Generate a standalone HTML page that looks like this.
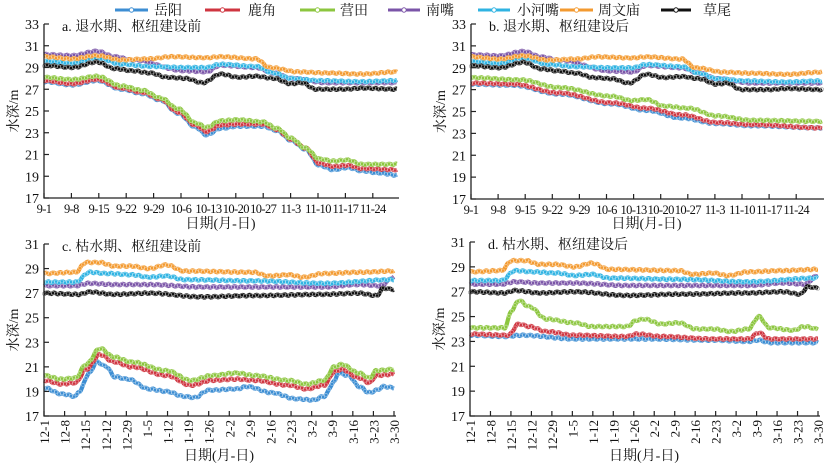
<!DOCTYPE html>
<html><head><meta charset="utf-8">
<style>
body{margin:0;background:#fff}
svg{display:block}
text{font-family:"Liberation Serif","Noto Serif CJK SC","Noto Sans CJK SC",serif;fill:#111}
</style></head>
<body>
<svg id="s" width="833" height="467" xmlns="http://www.w3.org/2000/svg"></svg>
<script>
const S=document.getElementById('s');
let out='';
const C={blue:'#3d8ed3',red:'#cf3540',green:'#8cc63f',purple:'#7b55a8',cyan:'#2fb3e2',orange:'#f39a30',black:'#111'};
const leg=[['blue','岳阳',115,148,154],['red','鹿角',205,240,248],['green','营田',300,335,340],['purple','南嘴',388,420,426],['cyan','小河嘴',478,510,517],['orange','周文庙',560,593,598],['black','草尾',661,691,703]];
leg.forEach(l=>{out+=`<line x1="${l[2]}" y1="10" x2="${l[3]}" y2="10" stroke="${C[l[0]]}" stroke-width="3"/><circle cx="${(l[2]+l[3])/2}" cy="10" r="2.2" fill="#fff" stroke="${C[l[0]]}" stroke-width="1"/><text x="${l[4]}" y="15" font-size="14">${l[1]}</text>`;});
function interp(k,t){for(let i=0;i<k.length-1;i++){if(t>=k[i][0]&&t<=k[i+1][0]){const f=(t-k[i][0])/(k[i+1][0]-k[i][0]);const s=(1-Math.cos(f*Math.PI))/2;return k[i][1]+(k[i+1][1]-k[i][1])*s;}}return k[k.length-1][1];}
const A={
purple:[[0,30.2],[.08,30.1],[.15,30.5],[.2,30],[.25,29.7],[.4,28.7],[.46,28.6],[.5,29.2],[.6,29.0],[.65,28.5],[.7,28],[.8,27.6],[1,27.6]],
cyan:[[0,29.6],[.08,29.4],[.15,29.9],[.22,29.3],[.3,29.1],[.4,29],[.46,29],[.5,29.3],[.6,29.1],[.65,28.5],[.7,28],[.78,27.8],[.9,27.7],[1,27.8]],
orange:[[0,30],[.08,29.8],[.15,30.1],[.22,29.7],[.3,29.8],[.36,30],[.46,29.9],[.5,30],[.6,29.8],[.64,29],[.72,28.6],[.8,28.5],[.9,28.4],[1,28.6]],
black:[[0,29.2],[.08,29],[.15,29.5],[.2,28.9],[.25,28.7],[.3,28.5],[.35,28.1],[.4,28],[.45,27.6],[.5,28.4],[.55,28.1],[.6,28.2],[.65,28],[.7,27.5],[.73,27.6],[.77,27],[.85,27],[.9,27.1],[1,27]]};
const Cc={
purple:[[0,27.6],[.09,27.6],[.13,27.8],[.2,27.7],[.3,27.7],[.45,27.5],[.8,27.5],[.9,27.7],[.96,27.6],[1,28.3]],
cyan:[[0,27.9],[.09,27.9],[.13,28.7],[.18,28.6],[.25,28.5],[.3,28.3],[.35,28.4],[.4,28.1],[.6,28],[.8,27.8],[1,28.1]],
orange:[[0,28.6],[.09,28.7],[.12,29.5],[.16,29.5],[.2,29.2],[.25,29.2],[.3,29],[.35,29.3],[.4,28.8],[.6,28.7],[.64,28.4],[.7,28.5],[.74,28.3],[.8,28.6],[.9,28.7],[1,28.8]],
black:[[0,27],[.1,26.9],[.13,27.1],[.2,26.9],[.3,27],[.45,26.7],[.6,26.8],[.8,26.9],[.9,27],[.95,26.8],[.97,27.4],[1,27.3]]};
const panels=[
{x0:44,x1:397,y0:24,y1:198,ymin:17,ymax:33,lab:'a. 退水期、枢纽建设前',ticks:['9-1','9-8','9-15','9-22','9-29','10-6','10-13','10-20','10-27','11-3','11-10','11-17','11-24'],tstep:27.4,rot:false,xt:228,
 s:Object.assign({},A,{
 blue:[[0,27.7],[.08,27.4],[.15,27.8],[.22,27],[.28,26.6],[.33,26],[.38,24.8],[.43,23.5],[.46,22.8],[.5,23.4],[.55,23.6],[.62,23.6],[.66,23.2],[.7,22.3],[.74,21.5],[.78,20],[.82,19.6],[.86,19.8],[.9,19.5],[.95,19.3],[1,19.1]],
 red:[[0,27.8],[.08,27.5],[.15,27.9],[.22,27.1],[.28,26.7],[.33,26.1],[.38,24.9],[.43,23.7],[.46,23.1],[.5,23.7],[.55,23.8],[.62,23.8],[.66,23.3],[.7,22.4],[.74,21.6],[.78,20.2],[.82,19.9],[.86,20],[.9,19.7],[1,19.6]],
 green:[[0,28.1],[.08,27.9],[.15,28.2],[.22,27.3],[.28,26.9],[.33,26.2],[.38,25.2],[.43,23.9],[.46,23.5],[.5,24.1],[.55,24.2],[.62,24],[.66,23.4],[.7,22.5],[.74,21.6],[.78,20.6],[.82,20.4],[.86,20.5],[.9,20.1],[1,20.1]]})},
{x0:471,x1:822,y0:24,y1:199,ymin:17,ymax:33,lab:'b. 退水期、枢纽建设后',ticks:['9-1','9-8','9-15','9-22','9-29','10-6','10-13','10-20','10-27','11-3','11-10','11-17','11-24'],tstep:27.1,rot:false,xt:228,
 s:Object.assign({},A,{
 blue:[[0,27.5],[.12,27.4],[.25,26.6],[.4,25.7],[.5,25.1],[.6,24.4],[.7,23.9],[.8,23.7],[1,23.5]],
 red:[[0,27.6],[.12,27.5],[.25,26.7],[.4,25.8],[.5,25.3],[.6,24.7],[.7,24],[.8,23.8],[1,23.5]],
 green:[[0,28.1],[.14,27.9],[.25,27.2],[.4,26.4],[.46,26],[.5,26.1],[.55,25.5],[.62,25.3],[.7,24.6],[.8,24.2],[1,24.1]]})},
{x0:44,x1:394,y0:244,y1:416,ymin:17,ymax:31,lab:'c. 枯水期、枢纽建设前',ticks:['12-1','12-8','12-15','12-12','12-29','1-5','1-12','1-19','1-26','2-2','2-9','2-16','2-23','3-2','3-9','3-16','3-23','3-30'],tstep:350/17,rot:true,xt:460,
 s:Object.assign({},Cc,{
 blue:[[0,19.3],[.05,18.8],[.09,18.6],[.1,19],[.13,20.5],[.15,21.4],[.18,21],[.2,20.2],[.24,20],[.3,19.2],[.35,19],[.4,18.6],[.43,18.5],[.47,19.1],[.55,19.2],[.58,19.4],[.65,18.9],[.72,18.4],[.77,18.3],[.8,18.6],[.83,19.8],[.84,20.5],[.87,20.3],[.9,19.4],[.93,18.9],[.95,19.1],[.97,19.4],[1,19.3]],
 red:[[0,19.9],[.05,19.6],[.09,19.7],[.12,20.8],[.16,22],[.2,21.4],[.25,21],[.35,20.3],[.42,19.5],[.48,19.9],[.55,20],[.6,19.9],[.7,19.5],[.75,19.2],[.8,19.5],[.83,20.6],[.85,20.8],[.9,20.1],[.93,19.7],[.95,20.3],[1,20.4]],
 green:[[0,20.3],[.05,20],[.09,20.1],[.12,21.2],[.16,22.5],[.2,21.8],[.25,21.4],[.35,20.7],[.42,19.9],[.48,20.3],[.55,20.5],[.6,20.3],[.7,19.9],[.75,19.6],[.8,19.9],[.83,21],[.85,21.2],[.9,20.5],[.93,20.1],[.95,20.7],[1,20.8]]})},
{x0:470,x1:818,y0:242,y1:416,ymin:17,ymax:31,lab:'d. 枯水期、枢纽建设后',ticks:['12-1','12-8','12-15','12-12','12-29','1-5','1-12','1-19','1-26','2-2','2-9','2-16','2-23','3-2','3-9','3-16','3-23','3-30'],tstep:348/17,rot:true,xt:460,
 s:Object.assign({},Cc,{
 blue:[[0,23.5],[.1,23.4],[.15,23.5],[.3,23.2],[.5,23.2],[.7,23.1],[.8,23.0],[.83,23.1],[.86,22.9],[1,22.9]],
 red:[[0,23.6],[.11,23.5],[.14,24.4],[.17,24.2],[.22,23.8],[.3,23.5],[.45,23.4],[.48,23.6],[.55,23.4],[.7,23.2],[.8,23.2],[.83,23.7],[.86,23.2],[1,23.2]],
 green:[[0,24.1],[.1,24.1],[.12,25.5],[.14,26.3],[.17,25.8],[.22,24.8],[.3,24.5],[.35,24.2],[.45,24.2],[.48,24.7],[.5,24.8],[.55,24.4],[.6,24.5],[.65,24],[.7,24],[.75,23.8],[.8,24],[.83,25],[.86,24.1],[.93,23.9],[.96,24.2],[1,24]]})}
];
const order=['purple','cyan','orange','black','blue','red','green'];
panels.forEach(p=>{
 const Y=v=>p.y1-(v-p.ymin)/(p.ymax-p.ymin)*(p.y1-p.y0);
 order.forEach(k=>{
  const kp=p.s[k];const W=p.x1-p.x0;let pts=[],cir='';
  for(let x=0;x<=W;x+=1){const t=x/W;const v=interp(kp,t)+0.06*Math.sin(x*0.9+k.length);pts.push((p.x0+x).toFixed(1)+','+Y(v).toFixed(1));
   if(x%3==0)cir+=`<circle cx="${(p.x0+x).toFixed(1)}" cy="${Y(v).toFixed(1)}" r="1.6"/>`;}
  out+=`<polyline points="${pts.join(' ')}" fill="none" stroke="${C[k]}" stroke-width="4.2" stroke-linejoin="round"/>`;
  out+=`<g fill="none" stroke="${k=='black'?'#999':'rgba(255,255,255,0.5)'}" stroke-width="0.6">${cir}</g>`;
 });
 out+=`<path d="M${p.x0} ${p.y0}V${p.y1}H${p.x1+2}" fill="none" stroke="#222" stroke-width="1.3"/>`;
 for(let v=p.ymin;v<=p.ymax;v+=2){const y=Y(v);out+=`<line x1="${p.x0}" y1="${y}" x2="${p.x0+5}" y2="${y}" stroke="#222" stroke-width="1.2"/><text x="${p.x0-5}" y="${y+5}" font-size="14" text-anchor="end">${v}</text>`;}
 p.ticks.forEach((l,i)=>{const x=p.x0+i*p.tstep;out+=`<line x1="${x}" y1="${p.y1}" x2="${x}" y2="${p.y1-5}" stroke="#222" stroke-width="1.2"/>`;
  if(p.rot)out+=`<text transform="translate(${x+5},${p.y1+4}) rotate(-90)" font-size="13" text-anchor="end">${l}</text>`;
  else out+=`<text x="${x}" y="${p.y1+15}" font-size="12.5" letter-spacing="-0.6" text-anchor="middle">${l}</text>`;});
 if(p.rot){const x=p.x1;out+=`<line x1="${x}" y1="${p.y1}" x2="${x}" y2="${p.y1-5}" stroke="#222"/>`;}
 out+=`<text x="${p.x0+18}" y="${p.y0+7}" font-size="14">${p.lab}</text>`;
 out+=`<text x="${(p.x0+p.x1)/2}" y="${p.xt}" font-size="14" text-anchor="middle">日期(月-日)</text>`;
 out+=`<text transform="translate(${p.x0-26},${(p.y0+p.y1)/2}) rotate(-90)" font-size="14" text-anchor="middle">水深/m</text>`;
});
S.innerHTML=out;
</script>
</body></html>
